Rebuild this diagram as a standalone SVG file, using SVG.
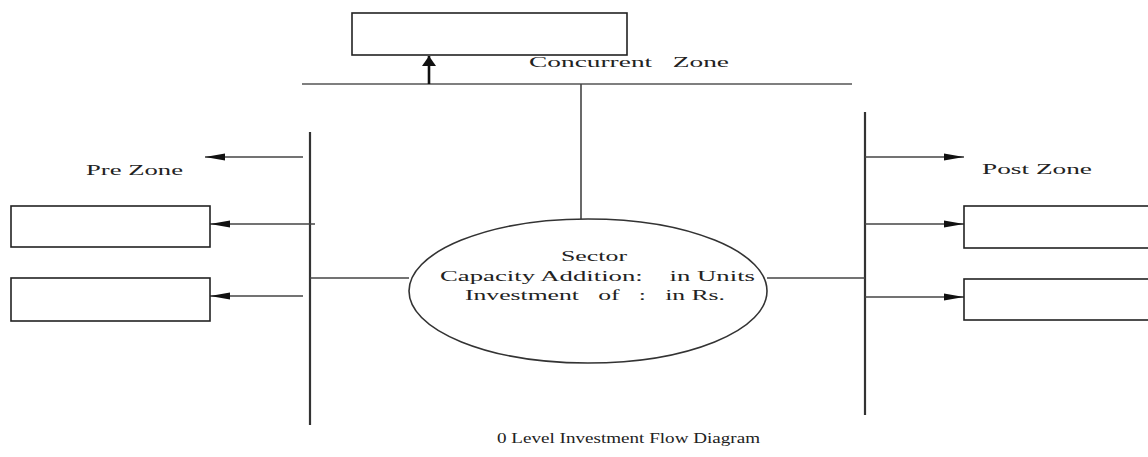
<svg xmlns="http://www.w3.org/2000/svg" width="1148" height="457" viewBox="0 0 1148 457">
  <style>
    .box { fill: #fff; stroke: #222; stroke-width: 1.6; }
    .bus { stroke: #333; stroke-width: 2.2; fill: none; }
    .rail { stroke: #555; stroke-width: 1.5; fill: none; }
    .wire { stroke: #444; stroke-width: 1.6; fill: none; }
    .flow { stroke: #444; stroke-width: 1.6; fill: none; marker-end: url(#head); }
    .lbl { font-family: "Liberation Serif", "Times New Roman", serif; font-size: 15px; fill: #222; }
  </style>
  <defs>
    <marker id="head" markerUnits="userSpaceOnUse" markerWidth="20" markerHeight="8" refX="20" refY="4" orient="auto">
      <path d="M0,0.5 L20,4 L0,7.5 z" fill="#111"/>
    </marker>
    <marker id="headBold" markerUnits="userSpaceOnUse" markerWidth="12" markerHeight="14" refX="10" refY="7" orient="auto">
      <path d="M0,0 L10,7 L0,14 z" fill="#111"/>
    </marker>
  </defs>
  <rect width="1148" height="457" fill="#fff"/>

  <!-- connectors: buses, links and flow arrows -->
  <g id="connectors">
    <line class="rail" x1="302" y1="84" x2="852" y2="84"/>
    <line class="wire" x1="581" y1="84" x2="581" y2="219"/>
    <line x1="429" y1="84" x2="429" y2="56" stroke="#111" stroke-width="2.6" marker-end="url(#headBold)"/>

    <line class="bus" x1="310" y1="132" x2="310" y2="425"/>
    <line class="wire" x1="310" y1="278" x2="409" y2="278"/>
    <line class="flow" x1="303" y1="157" x2="205" y2="157"/>
    <line class="flow" x1="315" y1="224" x2="210" y2="224"/>
    <line class="flow" x1="303" y1="296" x2="210" y2="296"/>

    <line class="bus" x1="865" y1="112" x2="865" y2="415"/>
    <line class="wire" x1="767" y1="278" x2="865" y2="278"/>
    <line class="flow" x1="865" y1="157" x2="964" y2="157"/>
    <line class="flow" x1="865" y1="224" x2="964" y2="224"/>
    <line class="flow" x1="865" y1="297" x2="964" y2="297"/>
  </g>

  <!-- concurrent zone -->
  <g id="concurrent-box">
    <rect class="box" x="352" y="13" width="275" height="42"/>
  </g>
  <g id="concurrent-label">
    <text class="lbl" x="529" y="67" textLength="200" lengthAdjust="spacingAndGlyphs" xml:space="preserve">Concurrent   Zone</text>
  </g>

  <!-- pre zone -->
  <g id="pre-label">
    <text class="lbl" x="86" y="175" textLength="97" lengthAdjust="spacingAndGlyphs">Pre Zone</text>
  </g>
  <g id="pre-box-1">
    <rect class="box" x="11" y="206" width="199" height="41"/>
  </g>
  <g id="pre-box-2">
    <rect class="box" x="11" y="278" width="199" height="43"/>
  </g>

  <!-- post zone -->
  <g id="post-label">
    <text class="lbl" x="982" y="174" textLength="110" lengthAdjust="spacingAndGlyphs">Post Zone</text>
  </g>
  <g id="post-box-1">
    <rect class="box" x="964" y="206" width="200" height="42"/>
  </g>
  <g id="post-box-2">
    <rect class="box" x="964" y="279" width="200" height="41"/>
  </g>

  <!-- central sector process -->
  <g id="sector">
    <ellipse cx="588" cy="291" rx="179" ry="72" fill="#fff" stroke="#333" stroke-width="1.6"/>
    <text class="lbl" x="561" y="261" textLength="66" lengthAdjust="spacingAndGlyphs">Sector</text>
    <text class="lbl" x="440" y="281" textLength="315" lengthAdjust="spacingAndGlyphs" xml:space="preserve">Capacity Addition:    in Units</text>
    <text class="lbl" x="465" y="300" textLength="260" lengthAdjust="spacingAndGlyphs" xml:space="preserve">Investment   of   :   in Rs.</text>
  </g>

  <!-- caption -->
  <g id="caption">
    <text class="lbl" x="497" y="443" font-size="17" textLength="263" lengthAdjust="spacingAndGlyphs">0 Level Investment Flow Diagram</text>
  </g>
</svg>
